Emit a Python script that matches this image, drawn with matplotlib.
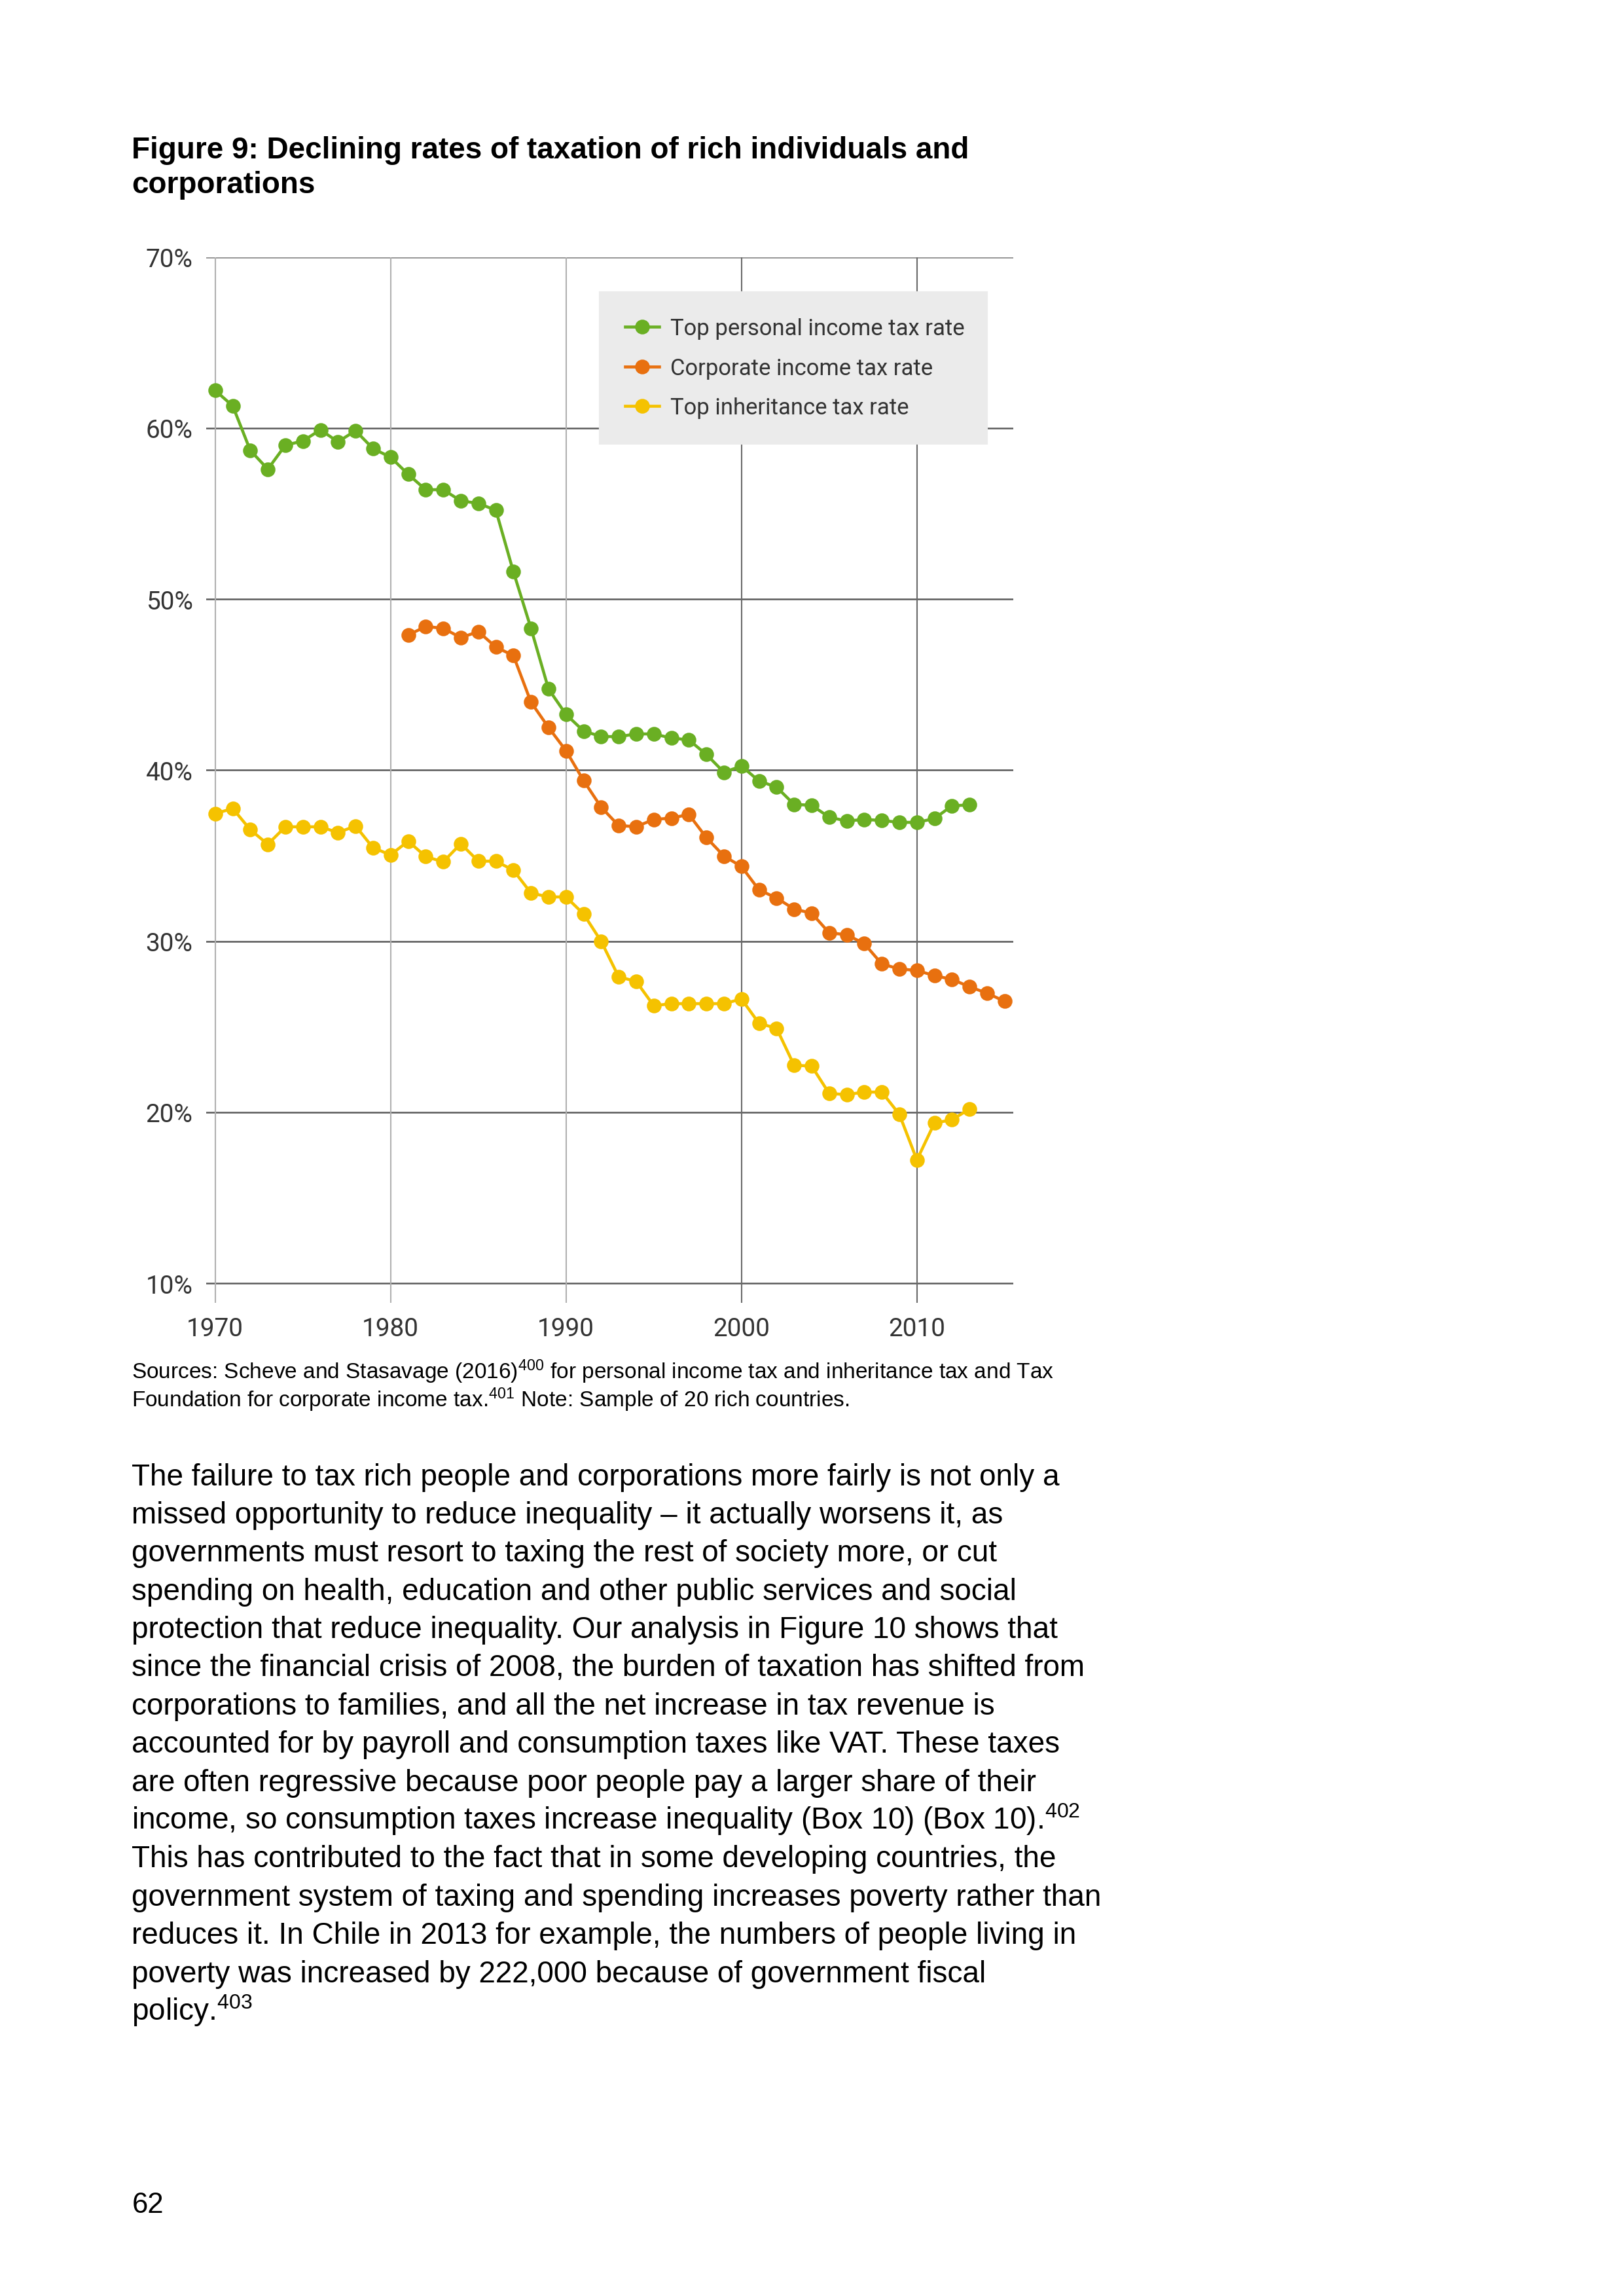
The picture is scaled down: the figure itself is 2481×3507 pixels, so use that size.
import matplotlib
matplotlib.use("Agg")
import matplotlib.pyplot as plt
import numpy as np

# data
years_personal = list(range(1970, 2014))
personal = [62.2, 61.3, 58.7, 57.6, 59.0, 59.25, 59.9, 59.2, 59.85, 58.8,
            58.3, 57.3, 56.4, 56.4, 55.75, 55.6, 55.2, 51.6, 48.3, 44.75,
            43.26, 42.29, 41.97, 41.96, 42.12, 42.12, 41.88, 41.77, 40.92, 39.88,
            40.24, 39.37, 39.01, 38.0, 37.95, 37.25, 37.03, 37.12, 37.06, 36.95,
            36.95, 37.17, 37.92, 37.97]

years_corporate = list(range(1981, 2016))
corporate = [47.9, 48.4, 48.3, 47.75, 48.1, 47.2, 46.7, 43.98, 42.5,
             41.14, 39.39, 37.84, 36.76, 36.7, 37.12, 37.2, 37.41, 36.06, 34.98,
             34.37, 33.0, 32.53, 31.88, 31.64, 30.49, 30.38, 29.86, 28.67, 28.38,
             28.29, 27.99, 27.77, 27.34, 26.96, 26.49]

years_inherit = list(range(1970, 2014))
inherit = [37.46, 37.76, 36.52, 35.67, 36.69, 36.69, 36.69, 36.35, 36.74, 35.46,
           35.05, 35.85, 34.95, 34.64, 35.7, 34.68, 34.68, 34.15, 32.82, 32.59,
           32.59, 31.59, 30.0, 27.92, 27.65, 26.23, 26.35, 26.35, 26.35, 26.35,
           26.62, 25.2, 24.91, 22.75, 22.7, 21.1, 21.03, 21.18, 21.18, 19.88,
           17.21, 19.37, 19.56, 20.19]

labels = ["Top personal income tax rate", "Corporate income tax rate",
          "Top inheritance tax rate"]
colors = ["#6aaf23", "#e8700f", "#f5c200"]

yticks = [10, 20, 30, 40, 50, 60, 70]
xticks = [1970, 1980, 1990, 2000, 2010]

plt.rcParams["mathtext.fontset"] = "custom"
plt.rcParams["mathtext.rm"] = "Liberation Sans"
plt.rcParams["mathtext.it"] = "Liberation Sans"

fig = plt.figure(figsize=(8.27, 11.693), dpi=300)

# chart
ax = fig.add_axes([0.1271, 0.4324, 0.4969, 0.4554])
for y in yticks:
    ax.axhline(y, color="#5a5a5a" if y != 70 else "#8a8a8a", lw=0.6, zorder=1)
for x in xticks:
    ax.axvline(x, color="#b0b0b0" if x < 2000 else "#6a6a6a", lw=0.5, zorder=1)

series = [(years_personal, personal), (years_corporate, corporate),
          (years_inherit, inherit)]
for (xs, ys), lab, c in zip(series, labels, colors):
    ax.plot(xs, ys, "-o", color=c, lw=1.1, markersize=4.4, label=lab, zorder=3)

ax.set_xlim(1969.5, 2015.5)
ax.set_ylim(8.85, 70)
ax.set_yticks(yticks)
ax.set_yticklabels([f"{v}%" for v in yticks])
ax.set_xticks(xticks)
ax.tick_params(length=0, labelsize=9.3, labelcolor="#333333", pad=5)
for lab in ax.get_xticklabels() + ax.get_yticklabels():
    lab.set_family("Roboto")
for s in ax.spines.values():
    s.set_visible(False)

leg = ax.legend(loc="upper left", bbox_to_anchor=(0.488, 0.824, 0.479, 0.142),
                mode="expand", frameon=True, fancybox=False, framealpha=1,
                facecolor="#ebebeb", edgecolor="#ebebeb", borderpad=1.1,
                labelspacing=0.8, handlelength=1.5, handletextpad=0.5,
                borderaxespad=0, prop={"family": "Roboto", "size": 8.3})
for t in leg.get_texts():
    t.set_color("#333333")
leg.set_zorder(5)

# page text
fig.text(0.0812, 1 - 108.0 / 1568,
         "Figure 9: Declining rates of taxation of rich individuals and",
         family="Liberation Sans", weight="bold", fontsize=11.0, va="baseline")
fig.text(0.0812, 1 - 132.0 / 1568, "corporations",
         family="Liberation Sans", weight="bold", fontsize=11.0, va="baseline")

fig.text(0.0812, 1 - 941.5 / 1568,
         "Sources: Scheve and Stasavage (2016)$^{400}$ for personal income tax and inheritance tax and Tax",
         family="Liberation Sans", fontsize=8.0, va="baseline")
fig.text(0.0812, 1 - 960.5 / 1568,
         "Foundation for corporate income tax.$^{401}$ Note: Sample of 20 rich countries.",
         family="Liberation Sans", fontsize=8.0, va="baseline")

body = [
    "The failure to tax rich people and corporations more fairly is not only a",
    "missed opportunity to reduce inequality \u2013 it actually worsens it, as",
    "governments must resort to taxing the rest of society more, or cut",
    "spending on health, education and other public services and social",
    "protection that reduce inequality. Our analysis in Figure 10 shows that",
    "since the financial crisis of 2008, the burden of taxation has shifted from",
    "corporations to families, and all the net increase in tax revenue is",
    "accounted for by payroll and consumption taxes like VAT. These taxes",
    "are often regressive because poor people pay a larger share of their",
    "income, so consumption taxes increase inequality (Box 10) (Box 10).$^{402}$",
    "This has contributed to the fact that in some developing countries, the",
    "government system of taxing and spending increases poverty rather than",
    "reduces it. In Chile in 2013 for example, the numbers of people living in",
    "poverty was increased by 222,000 because of government fiscal",
    "policy.$^{403}$",
]
y0 = 1 - 1014.0 / 1568
dy = 26.1 / 1568
for i, line in enumerate(body):
    fig.text(0.0812, y0 - i * dy, line, family="Liberation Sans",
             fontsize=11.0, va="baseline")

fig.text(0.0812, 1 - 1511.0 / 1568, "62", family="Liberation Sans",
         fontsize=10.5, va="baseline")

fig.savefig("out.png", dpi=300)
